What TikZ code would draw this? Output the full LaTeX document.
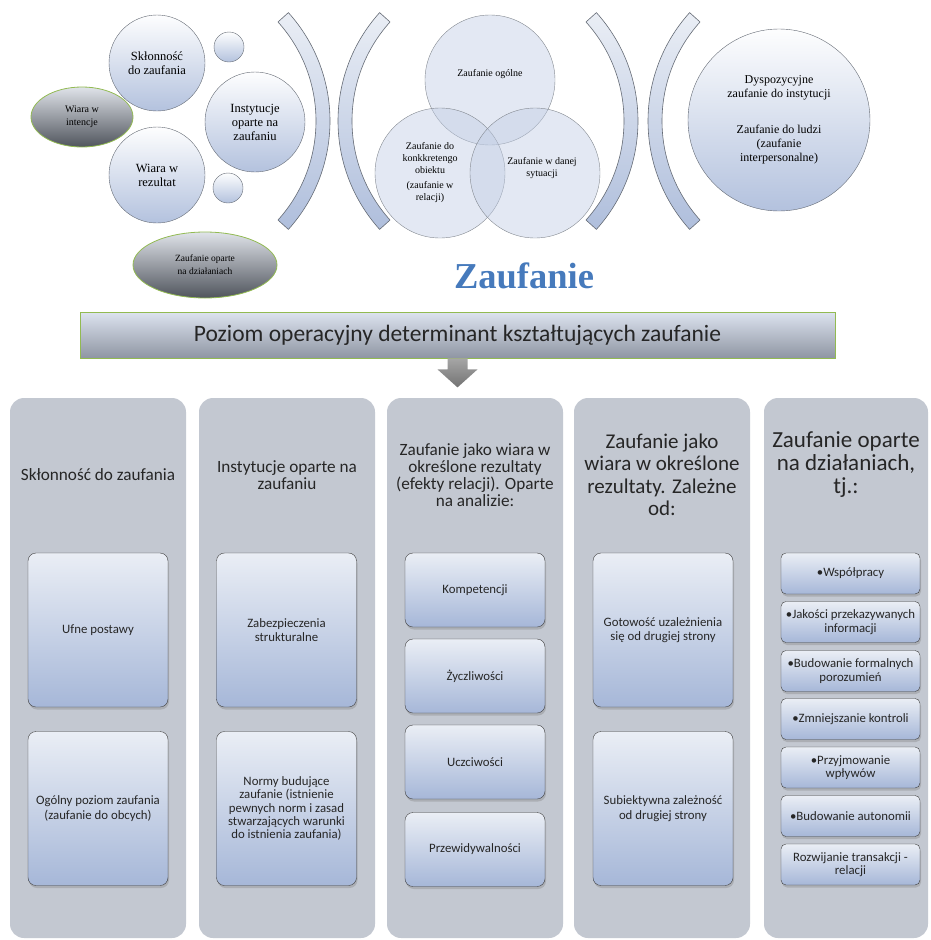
\documentclass[tikz,border=0pt]{standalone}
\usepackage{fontspec}
\setmainfont{Liberation Serif}
\newfontfamily\calibri{Carlito}
\usepackage{xcolor}
\usepackage{tikz}
\usetikzlibrary{shapes.geometric, shadows}

\definecolor{colgray}{RGB}{195,200,209}
\definecolor{boxtop}{RGB}{234,238,245}
\definecolor{boxbot}{RGB}{166,183,216}
\definecolor{leafgreen}{RGB}{146,186,82}
\definecolor{titleblue}{RGB}{70,122,188}
\definecolor{edgegray}{RGB}{100,106,116}

\begin{document}
\begin{tikzpicture}[x=1pt, y=1pt,
    bubble/.style={draw=edgegray, circle, inner sep=0pt, top color=white!92!boxtop, bottom color=boxbot!85!white, align=center, font=\fontsize{12.5}{14}\selectfont},
    venn/.style={draw=edgegray!80, circle, inner sep=0pt, minimum size=130pt, fill=boxbot!70!white, fill opacity=0.45},
    venntext/.style={align=center, font=\fontsize{10}{12}\selectfont},
    oval/.style={draw=leafgreen, line width=0.8pt, ellipse, inner sep=0pt, top color=boxtop!90!gray, bottom color=edgegray!80!black, align=center, font=\fontsize{10}{13}\selectfont},
    bracket/.style={draw=edgegray, line width=0.6pt, top color=boxtop, bottom color=boxbot!90!white},
    column/.style={fill=colgray, rounded corners=14pt, minimum width=176pt, minimum height=540pt, inner sep=0pt},
    head/.style={align=center, text=black!85, font=\calibri\fontsize{17.2}{17.2}\selectfont},
    bighead/.style={align=center, text=black!85, font=\calibri\fontsize{21}{22.5}\selectfont},
    item/.style={draw=black!75, rounded corners=8pt, top color=boxtop, bottom color=boxbot, minimum width=140pt, align=center, text=black!85, font=\calibri\fontsize{12.8}{14.5}\selectfont, drop shadow={shadow xshift=1pt, shadow yshift=-2.5pt, opacity=0.35}},
    smallitem/.style={item, rounded corners=5pt, minimum width=139pt, minimum height=41pt, inner xsep=1pt, font=\calibri\fontsize{12.8}{13.5}\selectfont}
]
\useasboundingbox (0,0) rectangle (930,-940);

% brackets between the groups
\draw[bracket] (168,-121) ++(-42:162) arc[start angle=-42, end angle=42, radius=162] -- ++(222:14) arc[start angle=42, end angle=-42, radius=148] -- cycle;
\draw[bracket] (500,-121) ++(138:162) arc[start angle=138, end angle=222, radius=162] -- ++(42:14) arc[start angle=222, end angle=138, radius=148] -- cycle;
\draw[bracket] (476,-121) ++(-42:162) arc[start angle=-42, end angle=42, radius=162] -- ++(222:14) arc[start angle=42, end angle=-42, radius=148] -- cycle;
\draw[bracket] (810,-121) ++(138:162) arc[start angle=138, end angle=222, radius=162] -- ++(42:14) arc[start angle=222, end angle=138, radius=148] -- cycle;

% left group
\node[oval, minimum width=102pt, minimum height=60pt] (intencje) at (82,-117) {Wiara w\\intencje};
\node[bubble, minimum size=96pt] (sklon) at (157,-63) {Skłonność\\do zaufania};
\node[bubble, minimum size=100pt] (inst) at (255,-122) {Instytucje\\oparte na\\zaufaniu};
\node[bubble, minimum size=96pt] (rezultat) at (157,-175) {Wiara w\\rezultat};
\node[bubble, minimum size=30pt] (dot1) at (229,-47) {};
\node[bubble, minimum size=30pt] (dot2) at (228,-188) {};
\node[oval, minimum width=144pt, minimum height=66pt, font=\fontsize{9.5}{13}\selectfont] (dzialania) at (205,-265) {Zaufanie oparte\\na działaniach};

% middle group
\node[venn] (ogolne) at (490,-80) {};
\node[venn] (obiekt) at (440,-173) {};
\node[venn] (sytuacja) at (535,-173) {};
\node[venntext] at ([yshift=6pt]ogolne.center) {Zaufanie ogólne};
\node[venntext] at ([xshift=-10pt]obiekt.center) {Zaufanie do\\konkkretengo\\obiektu\\[3pt](zaufanie w\\relacji)};
\node[venntext] at ([xshift=7pt, yshift=5pt]sytuacja.center) {Zaufanie w danej\\sytuacji};

% right group
\node[bubble, minimum size=182pt, font=\fontsize{12}{14}\selectfont] (dysp) at (779,-120) {Dyspozycyjne\\zaufanie do instytucji\\[22pt]Zaufanie do ludzi\\(zaufanie\\interpersonalne)};

\node[text=titleblue, font=\bfseries\fontsize{36.5}{38}\selectfont] (title) at (524,-276) {Zaufanie};

% banner and arrow
\node[draw=leafgreen, line width=0.8pt, top color=boxtop!80!boxbot, bottom color=gray!60!boxbot, minimum width=755pt, minimum height=46pt, text=black!85, font=\calibri\fontsize{23.5}{25}\selectfont] (banner) at (457.5,-335) {Poziom operacyjny determinant kształtujących zaufanie};
\path[top color=gray!70, bottom color=gray!90!black] ([xshift=-10pt]banner.south) -- ++(0,-11) -- ++(-10,0) -- ++(20,-18) -- ++(20,18) -- ++(-10,0) -- ++(0,11) -- cycle;

% columns
\node[column] (col1) at (98,-668) {};
\node[column] (col2) at (287,-668) {};
\node[column] (col3) at (475,-668) {};
\node[column] (col4) at (662,-668) {};
\node[column, minimum width=164pt] (col5) at (846,-668) {};

\node[head] (head1) at (98,-475) {Skłonność do zaufania};
\node[head] (head2) at (287,-475) {Instytucje oparte na\\zaufaniu};
\node[head] (head3) at (475,-475) {Zaufanie jako wiara w\\określone rezultaty\\(efekty relacji). Oparte\\na analizie:};
\node[bighead] (head4) at (662,-475) {Zaufanie jako\\wiara w określone\\rezultaty. Zależne\\od:};
\node[bighead, font=\calibri\fontsize{23}{23}\selectfont] (head5) at (846,-465) {Zaufanie oparte\\na działaniach,\\tj.:};

\node[item, minimum height=154pt] (b11) at (98,-630) {Ufne postawy};
\node[item, minimum height=154pt] (b12) at (98,-808.5) {Ogólny poziom zaufania\\(zaufanie do obcych)};

\node[item, minimum height=154pt] (b21) at (286.5,-630) {Zabezpieczenia\\strukturalne};
\node[item, minimum height=154pt, font=\calibri\fontsize{12.8}{13.4}\selectfont] (b22) at (286.5,-808.5) {Normy budujące\\zaufanie (istnienie\\pewnych norm i zasad\\stwarzających warunki\\do istnienia zaufania)};

\node[item, minimum height=74pt] (b31) at (475,-590) {Kompetencji};
\node[item, minimum height=74pt] (b32) at (475,-676) {Życzliwości};
\node[item, minimum height=74pt] (b33) at (475,-762) {Uczciwości};
\node[item, minimum height=74pt] (b34) at (475,-849.5) {Przewidywalności};

\node[item, minimum height=154pt] (b41) at (663,-630) {Gotowość uzależnienia\\się od drugiej strony};
\node[item, minimum height=154pt] (b42) at (663,-808.5) {Subiektywna zależność\\od drugiej strony};

\node[smallitem] (b51) at (850.5,-573.5) {•Współpracy};
\node[smallitem] (b52) at (850.5,-622) {•Jakości przekazywanych\\informacji};
\node[smallitem] (b53) at (850.5,-671) {•Budowanie formalnych\\porozumień};
\node[smallitem] (b54) at (850.5,-719) {•Zmniejszanie kontroli};
\node[smallitem] (b55) at (850.5,-767.5) {•Przyjmowanie\\wpływów};
\node[smallitem] (b56) at (850.5,-816) {•Budowanie autonomii};
\node[smallitem] (b57) at (850.5,-864.5) {Rozwijanie transakcji -\\relacji};
\end{tikzpicture}
\end{document}
